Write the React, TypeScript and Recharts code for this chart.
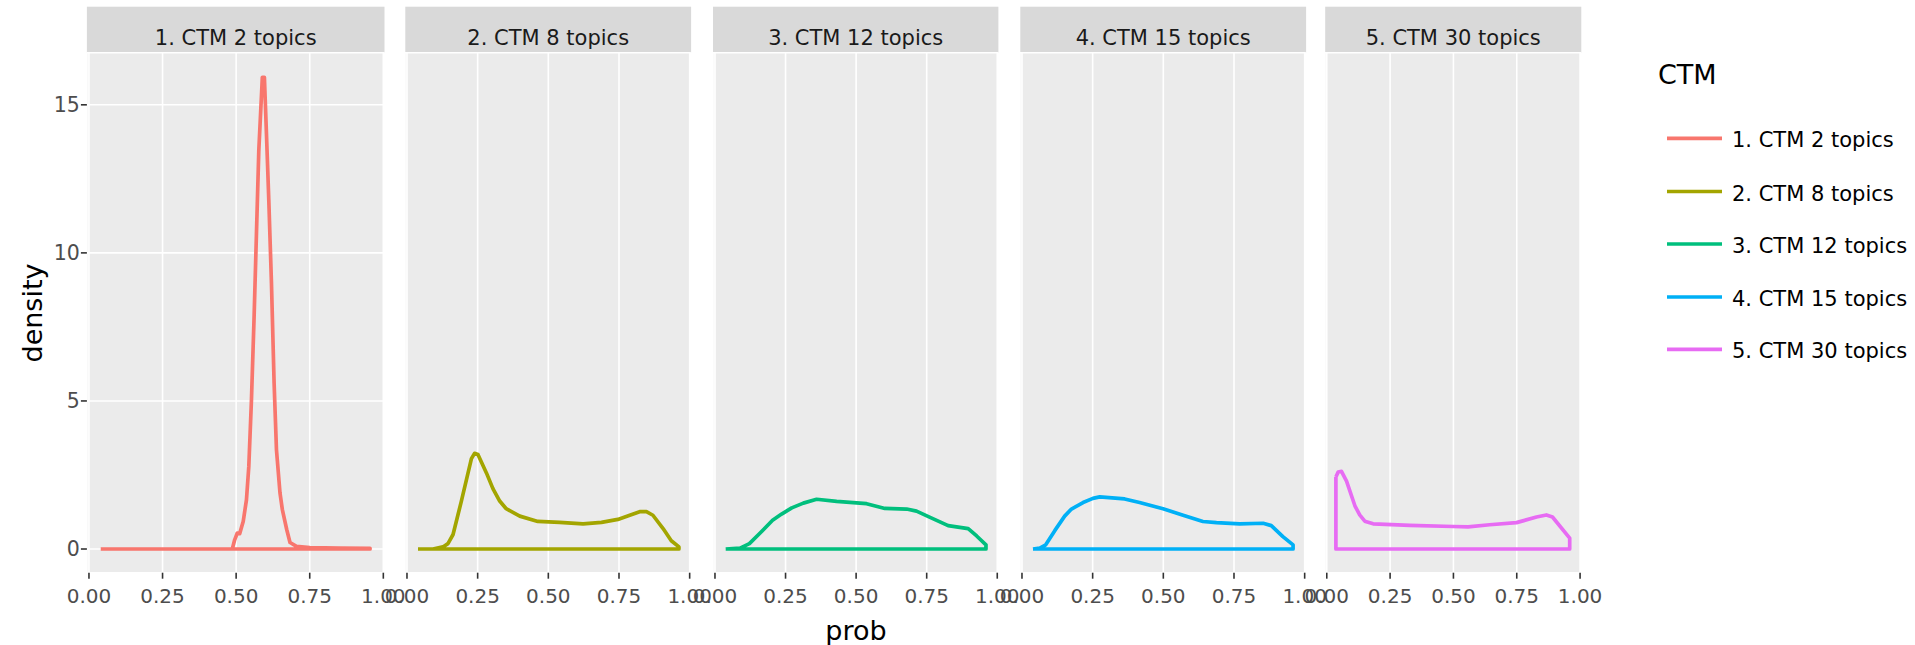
import { LineChart, Line, XAxis, YAxis, CartesianGrid } from 'recharts'

// facet labels + colours (ggplot hue palette)
const facetLabels = ['1. CTM 2 topics', '2. CTM 8 topics', '3. CTM 12 topics', '4. CTM 15 topics', '5. CTM 30 topics']
const facetColors = ['#F8766D', '#A3A500', '#00BF7D', '#00B0F6', '#E76BF3']

const probTicks = [0, 0.25, 0.5, 0.75, 1]
const densityTicks = [0, 5, 10, 15]

// density curves
const ctm2Prob = [0.04, 0.487, 0.495, 0.504, 0.512, 0.524, 0.535, 0.543, 0.552, 0.561, 0.569, 0.577, 0.589, 0.596, 0.603, 0.611, 0.62, 0.629, 0.637, 0.649, 0.657, 0.672, 0.683, 0.705, 0.75, 0.85, 0.955]
const ctm2Density = [0, 0, 0.31, 0.54, 0.52, 0.93, 1.66, 2.78, 5.03, 7.84, 10.65, 13.46, 15.93, 15.93, 14.02, 11.77, 8.97, 5.6, 3.35, 1.89, 1.33, 0.65, 0.22, 0.09, 0.05, 0.03, 0.02]

const ctm8Prob = [0.039, 0.092, 0.127, 0.145, 0.163, 0.192, 0.228, 0.239, 0.251, 0.281, 0.304, 0.328, 0.351, 0.399, 0.463, 0.54, 0.623, 0.688, 0.746, 0.788, 0.823, 0.847, 0.87, 0.906, 0.935, 0.962]
const ctm8Density = [0, 0, 0.07, 0.18, 0.49, 1.6, 3.05, 3.23, 3.19, 2.57, 2.04, 1.62, 1.36, 1.11, 0.93, 0.9, 0.85, 0.9, 1.0, 1.14, 1.26, 1.26, 1.14, 0.69, 0.28, 0.07]

const ctm12Prob = [0.038, 0.089, 0.122, 0.159, 0.204, 0.236, 0.272, 0.313, 0.36, 0.431, 0.537, 0.602, 0.679, 0.714, 0.762, 0.826, 0.897, 0.927, 0.96]
const ctm12Density = [0, 0.03, 0.18, 0.53, 0.97, 1.18, 1.39, 1.55, 1.68, 1.61, 1.53, 1.37, 1.35, 1.28, 1.07, 0.79, 0.69, 0.44, 0.14]

const ctm15Prob = [0.039, 0.063, 0.084, 0.116, 0.151, 0.175, 0.216, 0.251, 0.275, 0.363, 0.416, 0.499, 0.57, 0.64, 0.688, 0.77, 0.853, 0.882, 0.923, 0.959]
const ctm15Density = [0, 0.03, 0.14, 0.62, 1.11, 1.35, 1.57, 1.71, 1.76, 1.69, 1.57, 1.36, 1.14, 0.93, 0.89, 0.85, 0.87, 0.79, 0.42, 0.14]

const ctm30Prob = [0.036, 0.045, 0.058, 0.078, 0.111, 0.13, 0.15, 0.183, 0.328, 0.499, 0.558, 0.643, 0.749, 0.828, 0.867, 0.891, 0.959]
const ctm30Density = [2.43, 2.6, 2.62, 2.29, 1.46, 1.15, 0.94, 0.85, 0.8, 0.76, 0.75, 0.82, 0.89, 1.08, 1.15, 1.08, 0.37]

// geom_density outline: the curve, down to the baseline, back along it, and closed
function outline(prob: number[], density: number[]) {
  const pts = prob.map((p, i) => ({ prob: p, density: density[i] }))
  const first = prob[0]
  const last = prob[prob.length - 1]
  return [...pts, { prob: last, density: 0 }, { prob: first, density: 0 }, pts[0]]
}

const series = [
  outline(ctm2Prob, ctm2Density),
  outline(ctm8Prob, ctm8Density),
  outline(ctm12Prob, ctm12Density),
  outline(ctm15Prob, ctm15Density),
  outline(ctm30Prob, ctm30Density),
]

const X_DOMAIN = [-0.007, 1.004]
const Y_DOMAIN = [-0.8, 16.76]

const H = 645
const PLOT_TOP = 52.7
const PLOT_BOTTOM = 572.7
const PANELS = [
  { left: 86.9, width: 297.6 },
  { left: 405.3, width: 285.8 },
  { left: 713, width: 285.4 },
  { left: 1020.3, width: 285.8 },
  { left: 1325.2, width: 256.1 },
]
const PAD = 30
const FONT = '"DejaVu Sans", Verdana, sans-serif'

function Panel({ i }: { i: number }) {
  const { left, width } = PANELS[i]
  const first = i === 0
  const lead = first ? left : PAD
  return (
    <div style={{ position: 'absolute', left: left - lead, top: 0 }}>
      <LineChart
        width={lead + width + PAD}
        height={H}
        data={series[i]}
        margin={{ top: PLOT_TOP, right: PAD, bottom: 0, left: first ? 0 : PAD }}
      >
        <CartesianGrid fill="#EBEBEB" stroke="#FFFFFF" strokeWidth={1.6} />
        <XAxis
          dataKey="prob"
          type="number"
          domain={X_DOMAIN}
          ticks={probTicks}
          interval={0}
          allowDataOverflow
          height={H - PLOT_BOTTOM}
          tickFormatter={(v: number) => v.toFixed(2)}
          axisLine={false}
          tickLine={{ stroke: '#333333', strokeWidth: 1.6 }}
          tickSize={6}
          tickMargin={10}
          tick={{ fill: '#4D4D4D', fontSize: 20 }}
        />
        <YAxis
          type="number"
          domain={Y_DOMAIN}
          ticks={densityTicks}
          allowDataOverflow
          width={first ? lead : 0}
          axisLine={false}
          tickLine={first ? { stroke: '#333333', strokeWidth: 1.6 } : false}
          tick={first ? { fill: '#4D4D4D', fontSize: 20.5 } : false}
          tickSize={6}
          tickMargin={1}
        />
        <Line
          type="linear"
          dataKey="density"
          stroke={facetColors[i]}
          strokeWidth={3.7}
          strokeLinejoin="round"
          dot={false}
          activeDot={false}
          isAnimationActive={false}
        />
      </LineChart>
    </div>
  )
}

export default function App() {
  const legendY = [138.3, 191.5, 244, 297, 349.3]
  return (
    <div style={{ position: 'relative', width: 1915, height: H, fontFamily: FONT, background: '#fff' }}>
      <style>{'body{margin:0}'}</style>
      <svg width={1915} height={H} style={{ position: 'absolute', left: 0, top: 0 }} fontFamily={FONT}>
        {PANELS.map((p, i) => (
          <g key={i}>
            <rect x={p.left} y={6.7} width={p.width} height={PLOT_TOP - 6.7} fill="#D9D9D9" />
            <text x={p.left + p.width / 2} y={45} textAnchor="middle" fontSize={21} fill="#1A1A1A">
              {facetLabels[i]}
            </text>
          </g>
        ))}
        <text transform="translate(42,313) rotate(-90)" textAnchor="middle" fontSize={27} fill="#000">density</text>
        <text x={856} y={640} textAnchor="middle" fontSize={27} fill="#000">prob</text>
        <text x={1658} y={84} fontSize={27} fill="#000">CTM</text>
        {facetLabels.map((label, i) => (
          <g key={label}>
            <line x1={1667} x2={1722} y1={legendY[i]} y2={legendY[i]} stroke={facetColors[i]} strokeWidth={3.7} />
            <text x={1732} y={legendY[i] + 9} fontSize={21} fill="#000">{label}</text>
          </g>
        ))}
      </svg>
      {PANELS.map((_, i) => <Panel key={i} i={i} />)}
    </div>
  )
}
